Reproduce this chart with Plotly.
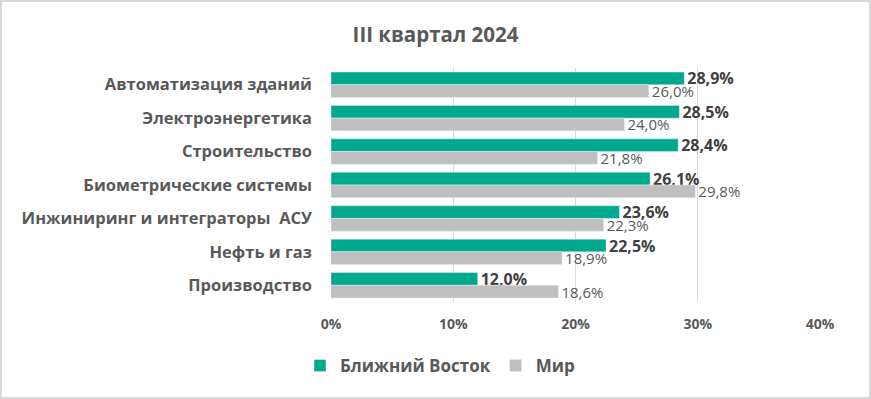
import plotly.graph_objects as go

categories = ["Автоматизация зданий", "Электроэнергетика", "Строительство",
              "Биометрические системы", "Инжиниринг и интеграторы  АСУ",
              "Нефть и газ", "Производство"]
middle_east = [28.9, 28.5, 28.4, 26.1, 23.6, 22.5, 12.0]
world = [26.0, 24.0, 21.8, 29.8, 22.3, 18.9, 18.6]
tick_vals = [0, 10, 20, 30, 40]
tick_text = ["0%", "10%", "20%", "30%", "40%"]

def fmt(v):
    return f"{v:.1f}%".replace(".", ",")

W, H = 871, 399
L, R, T, B = 331, 51, 68, 97
pw, ph = W - L - R, H - T - B

FONT = "Open Sans"
fig = go.Figure()
fig.add_trace(go.Bar(
    y=categories, x=middle_east, orientation="h", name="Ближний Восток",
    marker_color="#00A88E", text=[fmt(v) for v in middle_east],
    textposition="outside", cliponaxis=False,
    textfont=dict(family=FONT, size=16, color="#404040", weight="bold"),
))
fig.add_trace(go.Bar(
    y=categories, x=world, orientation="h", name="Мир",
    marker_color="#BFBFBF", text=[fmt(v) for v in world],
    textposition="outside", cliponaxis=False,
    textfont=dict(family=FONT, size=15, color="#595959"),
))

fig.update_layout(
    width=W, height=H,
    margin=dict(l=L, r=R, t=T, b=B, autoexpand=False),
    paper_bgcolor="white", plot_bgcolor="white",
    barmode="group", bargap=0.24, bargroupgap=0,
    uniformtext=dict(minsize=15, mode="show"),
    font=dict(family=FONT, color="#595959"),
    title=dict(text="III квартал 2024", x=0.5, xanchor="center",
               y=1 - 35 / H, yanchor="middle",
               font=dict(family=FONT, size=20.5, color="#595959", weight="bold")),
    xaxis=dict(range=[0, 40], tickvals=tick_vals, ticktext=tick_text,
               showgrid=True, gridcolor="#D9D9D9", gridwidth=1,
               zeroline=False, showline=False, ticks="",
               ticklabelstandoff=12,
               tickfont=dict(family=FONT, size=14, color="#595959", weight="bold")),
    yaxis=dict(autorange="reversed", showgrid=False, showline=False,
               ticks="", ticklabelstandoff=18,
               tickfont=dict(family=FONT, size=16.5, color="#595959", weight="bold")),
    legend=dict(orientation="h", x=(440 - L) / pw, xanchor="center",
                y=(T + ph - 366) / ph, yanchor="middle",
                font=dict(family=FONT, size=17, color="#595959", weight="bold"),
                traceorder="normal", itemwidth=30),
    showlegend=True,
)
fig.add_shape(type="rect", xref="paper", yref="paper",
              x0=(1 - L) / pw, x1=(W - 1 - L) / pw,
              y0=(T + ph - (H - 1)) / ph, y1=(T + ph - 1) / ph,
              line=dict(color="#D9D9D9", width=2), fillcolor="rgba(0,0,0,0)",
              layer="below")

fig.write_html("out.html", config={"displayModeBar": False},
               post_script="document.body.style.margin='0';")
